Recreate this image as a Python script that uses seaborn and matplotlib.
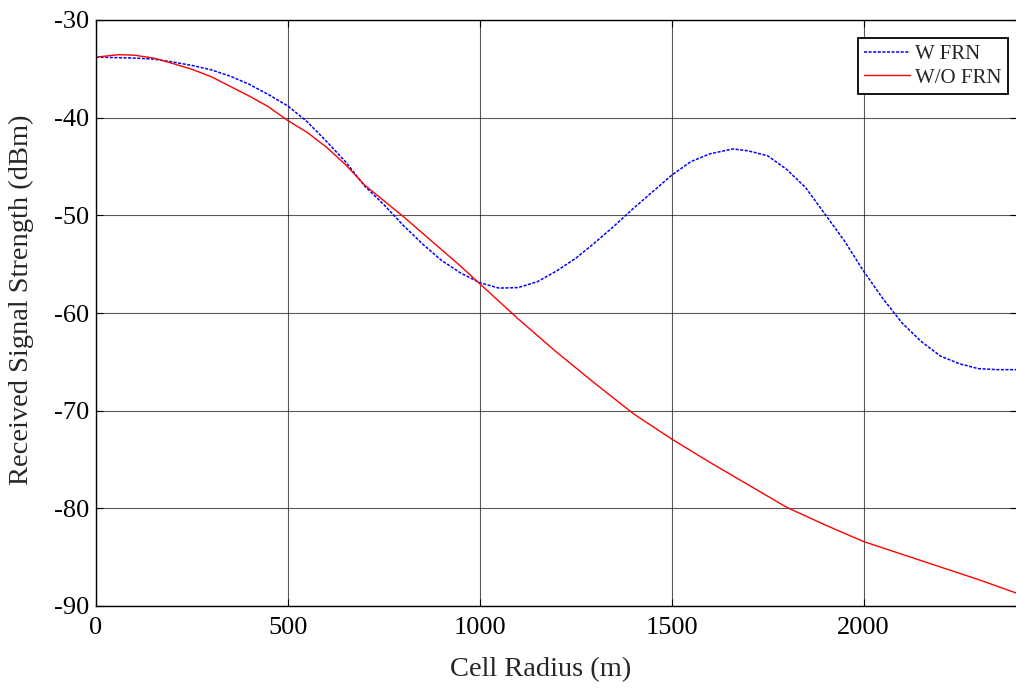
import matplotlib
matplotlib.use("Agg")
import matplotlib.pyplot as plt
import seaborn as sns
import pandas as pd

# Data
w_frn_x = [0, 50, 100, 150, 200, 250, 300, 350, 400, 450, 500, 550, 600, 650,
           700, 750, 800, 850, 900, 950, 1000, 1050, 1100, 1150, 1200, 1250,
           1300, 1350, 1400, 1450, 1500, 1550, 1600, 1660, 1700, 1750, 1800,
           1850, 1900, 1950, 2000, 2050, 2100, 2150, 2200, 2250, 2300, 2350,
           2400]
w_frn_y = [-33.8, -33.85, -33.9, -34.0, -34.3, -34.65, -35.1, -35.75, -36.6,
           -37.65, -38.8, -40.4, -42.4, -44.5, -47.0, -48.9, -51.0, -52.9,
           -54.6, -55.9, -56.9, -57.45, -57.4, -56.8, -55.7, -54.4, -52.8,
           -51.1, -49.3, -47.6, -45.9, -44.5, -43.7, -43.2, -43.4, -43.9,
           -45.3, -47.2, -49.9, -52.6, -55.7, -58.5, -61.0, -62.9, -64.4,
           -65.2, -65.7, -65.8, -65.8]

wo_frn_x = [0, 60, 100, 150, 200, 250, 300, 350, 400, 450, 500, 550, 600,
            650, 700, 750, 800, 850, 900, 950, 1000, 1100, 1150, 1200, 1300,
            1400, 1500, 1600, 1700, 1800, 1900, 2000, 2100, 2200, 2300, 2400]
wo_frn_y = [-33.8, -33.55, -33.6, -33.9, -34.45, -35.05, -35.8, -36.8, -37.8,
            -38.9, -40.3, -41.5, -43.0, -44.8, -46.9, -48.5, -50.1, -51.8,
            -53.5, -55.2, -57.0, -60.6, -62.3, -64.0, -67.2, -70.3, -72.9,
            -75.3, -77.6, -79.9, -81.7, -83.4, -84.7, -86.0, -87.3, -88.7]

series_names = ["W FRN", "W/O FRN"]
x_ticks = [0, 500, 1000, 1500, 2000]
y_ticks = [-90, -80, -70, -60, -50, -40, -30]

sns.set_theme(style="ticks")
plt.rcParams["font.family"] = ["Liberation Serif", "DejaVu Serif"]
plt.rcParams["axes.unicode_minus"] = False

df = pd.concat([
    pd.DataFrame({"x": w_frn_x, "y": w_frn_y, "series": series_names[0]}),
    pd.DataFrame({"x": wo_frn_x, "y": wo_frn_y, "series": series_names[1]}),
])

fig = plt.figure(figsize=(10.16, 6.88), dpi=100)
ax = fig.add_axes([96 / 1016, 1 - 606 / 688, 921 / 1016, 586 / 688])

sns.lineplot(data=df[df.series == series_names[0]], x="x", y="y", ax=ax,
             color="#0000ff", linewidth=1.1, linestyle=(0, (2, 1)),
             label=series_names[0], sort=False)
sns.lineplot(data=df[df.series == series_names[1]], x="x", y="y", ax=ax,
             color="#ff0000", linewidth=1.0, label=series_names[1], sort=False)

ax.set_xlim(0, 2400)
ax.set_ylim(-90, -30)
ax.set_xticks(x_ticks)
ax.set_yticks(y_ticks)
ax.grid(True, color="black", linewidth=0.8, alpha=0.65)
ax.tick_params(direction="in", length=5, width=0.8, labelsize=19,
               top=True, right=True, colors="black", pad=5)
ax.tick_params(axis="x", pad=8)
for s in ax.spines.values():
    s.set_color("black")
    s.set_linewidth(1.0)

ax.set_xlabel("Cell Radius (m)", fontsize=20.5)
ax.set_ylabel("Received Signal Strength (dBm)", fontsize=20.5)
ax.xaxis.set_label_coords(0.483, -0.088)
ax.yaxis.set_label_coords(-0.067, 0.522)

leg = ax.legend(loc="upper right", bbox_to_anchor=(0.990, 0.969),
                fontsize=15, frameon=True, fancybox=False, shadow=False,
                handlelength=2.2, handletextpad=0.25, borderpad=0.3,
                labelspacing=0.2, borderaxespad=0.0)
leg.get_frame().set_edgecolor("black")
leg.get_frame().set_linewidth(1.3)
leg.get_frame().set_alpha(1.0)

fig.savefig("out.png", dpi=100)
